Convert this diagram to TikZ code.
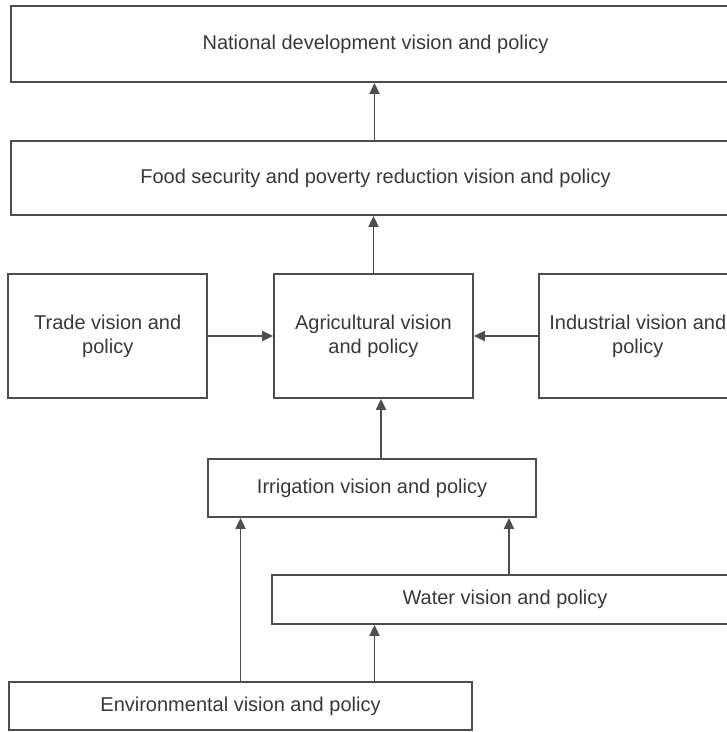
\documentclass[tikz,border=0pt]{standalone}
\usepackage{fontspec}
\setmainfont{Liberation Sans}
\usetikzlibrary{arrows.meta,positioning}
\definecolor{boxgray}{HTML}{4D4D4D}
\definecolor{textgray}{HTML}{383838}

\begin{document}
\begin{tikzpicture}[x=1pt,y=-1pt,
        box/.style={draw=boxgray,line width=1.8pt,rectangle,inner sep=0pt,align=center,
            text=textgray,font=\fontsize{20}{24}\selectfont},
        link/.style={draw=boxgray,line width=1.8pt,-{Triangle[length=11pt,width=10pt]}}]
                \useasboundingbox (0,0) rectangle (727,732);
                \node[box,minimum width=729pt,minimum height=76pt] (nat) at (375.5,44) {National development vision and policy};
                \node[box,minimum width=729pt,minimum height=74pt] (food) at (375.5,178) {Food security and poverty reduction vision and policy};
                \node[box,minimum width=199pt,minimum height=124pt] (agri) at (373.5,336) {Agricultural vision\\and policy};
                \node[box,minimum width=199pt,minimum height=124pt,left=65pt of agri] (trade) {Trade vision and\\policy};
                \node[box,minimum width=198pt,minimum height=124pt,right=64pt of agri] (ind) {Industrial vision and\\policy};
                \node[box,minimum width=328pt,minimum height=58pt] (irr) at (372,488) {Irrigation vision and policy};
                \node[box,minimum width=466pt,minimum height=49pt] (water) at (505,599.5) {Water vision and policy};
                \node[box,minimum width=463pt,minimum height=48pt] (env) at (240.5,706) {Environmental vision and policy};
                \path (irr.north) ++(9,0) coordinate (irrUp);
                \path (env.north) ++(134,0) coordinate (envUp);
                \path (water.north) ++(4,0) coordinate (waterUp);
                \path (food.north) ++(-1,0) coordinate (foodUp);
                \draw[link] (foodUp) -- (foodUp |- nat.south);
                \draw[link] (agri.north) -- (agri.north |- food.south);
                \draw[link] (trade.east) -- (agri.west);
                \draw[link] (ind.west) -- (agri.east);
                \draw[link] (irrUp) -- (irrUp |- agri.south);
                \draw[link] (waterUp) -- (waterUp |- irr.south);
                \draw[link] (env.north) -- (env.north |- irr.south);
                \draw[link] (envUp) -- (envUp |- water.south);
            \end{tikzpicture}
\end{document}
